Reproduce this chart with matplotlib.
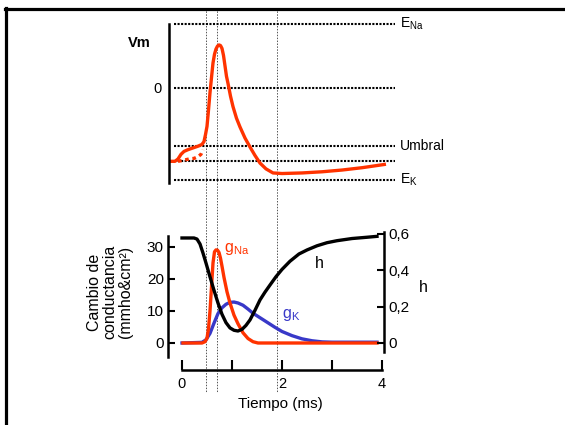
import matplotlib
matplotlib.use('Agg')
import matplotlib.pyplot as plt
from matplotlib.lines import Line2D
from matplotlib import transforms

plt.rcParams['font.family'] = ['Liberation Sans', 'DejaVu Sans']
plt.rcParams['mathtext.fontset'] = 'custom'
plt.rcParams['mathtext.rm'] = 'Liberation Sans'
plt.rcParams['mathtext.it'] = 'Liberation Sans:italic'
plt.rcParams['mathtext.bf'] = 'Liberation Sans:bold'

W, H = 565, 425
RED = '#FF3300'
BLUE = '#3838C8'

# ---------------- data ----------------
# membrane potential (mV) vs time (ms)
vm_t = [-0.26, -0.14, -0.08, -0.02, 0.04, 0.12, 0.22, 0.32, 0.40, 0.44, 0.47,
        0.50, 0.53, 0.56, 0.59, 0.62, 0.65, 0.68, 0.71, 0.74, 0.77, 0.80,
        0.83, 0.86, 0.89, 0.92, 0.97, 1.02, 1.09, 1.16, 1.26, 1.36, 1.46,
        1.56, 1.68, 1.82, 2.00, 2.40, 2.80, 3.20, 3.60, 4.08]
vm_mv = [-63, -63, -61, -57, -54.5, -53, -51.5, -50, -48.5, -46, -40,
         -33, -19, -4, 9, 21.5, 29, 33.5, 36, 37, 36.5, 34,
         28, 19, 10, 4, -7, -16, -26, -33.5, -43, -50.7, -58,
         -64.5, -69.5, -73, -73.5, -73, -72, -70.5, -68.5, -65.5]
# sub-threshold response (dotted)
sub_t = [-0.08, 0.04, 0.14, 0.24, 0.32, 0.38, 0.42]
sub_mv = [-63, -62, -61, -60.5, -59, -57, -53]
# reference levels
level_values = [55, 0, -50, -63, -79]
level_labels = [r'$\mathregular{E_{Na}}$', '', 'Umbral', '', r'$\mathregular{E_K}$']

# conductances (mmho/cm2) vs time (ms)
gna_t = [0.02, 0.40, 0.46, 0.50, 0.53, 0.56, 0.59, 0.62, 0.65, 0.68, 0.71,
         0.74, 0.77, 0.80, 0.84, 0.90, 0.96, 1.04, 1.12, 1.22, 1.32, 1.42,
         1.52, 3.90]
gna = [0, 0, 0.4, 1.5, 4.5, 10, 17.5, 25, 28.5, 29.1, 29,
       28.3, 26.5, 24, 20.5, 16, 12.5, 8.7, 6, 3.2, 1.4, 0.4,
       0, 0]
gk_t = [0.0, 0.40, 0.48, 0.56, 0.64, 0.72, 0.80, 0.88, 0.96, 1.04, 1.12,
        1.22, 1.32, 1.42, 1.50, 1.62, 1.74, 1.86, 2.00, 2.20, 2.40, 2.60,
        2.80, 3.00, 3.90]
gk = [0, 0.2, 1, 3, 6.2, 9.2, 11, 12.1, 12.7, 12.8, 12.5,
      11.8, 10.6, 9.3, 8.5, 7.3, 6.1, 4.9, 3.6, 2.3, 1.3, 0.7,
      0.35, 0.25, 0.25]
# inactivation variable h
h_t = [0.0, 0.24, 0.30, 0.36, 0.42, 0.48, 0.56, 0.64, 0.72, 0.80, 0.88,
       0.96, 1.04, 1.12, 1.20, 1.28, 1.36, 1.46, 1.56, 1.66, 1.76, 1.88,
       2.00, 2.16, 2.34, 2.50, 2.70, 2.90, 3.10, 3.40, 3.70, 3.90]
h = [0.578, 0.578, 0.572, 0.545, 0.495, 0.44, 0.364, 0.29, 0.22, 0.158, 0.112,
     0.083, 0.07, 0.066, 0.075, 0.097, 0.127, 0.18, 0.237, 0.28, 0.319, 0.365,
     0.405, 0.45, 0.49, 0.512, 0.535, 0.552, 0.563, 0.575, 0.582, 0.587]

x_ticks = [0, 1, 2, 3, 4]
x_ticklabels = ['0', '', '2', '', '4']
g_ticks = [0, 10, 20, 30]
h_ticks = [0, 0.2, 0.4, 0.6]
h_ticklabels = ['0', '0,2', '0,4', '0,6']
event_t = [0.48, 0.70, 1.90]

# ---------------- layout helpers ----------------
def rect(x0, y0, x1, y1):
    return [x0 / W, 1 - y1 / H, (x1 - x0) / W, (y1 - y0) / H]

T0_PX, PX_PER_MS = 182, 50.0
def t_of(px):
    return (px - T0_PX) / PX_PER_MS

fig = plt.figure(figsize=(W / 100, H / 100), dpi=100)

def ftext(xpx, ypx, s, **kw):
    return fig.text(xpx / W, 1 - ypx / H, s, **kw)

# ---------------- top panel ----------------
ax1 = fig.add_axes(rect(169, 24, 400, 183))
ax1.patch.set_visible(False)
mv_per_px = 55 / 64.0
ax1.set_xlim(t_of(169), t_of(400))
ax1.set_ylim(-(183 - 88) * mv_per_px, 55)
for s in ['top', 'right', 'bottom']:
    ax1.spines[s].set_visible(False)
ax1.spines['left'].set_linewidth(1.8)
ax1.set_xticks([])
ax1.set_yticks([])

for v, lab in zip(level_values, level_labels):
    ax1.plot([t_of(174), t_of(395)], [v, v], color='k', lw=1.5,
             ls=(0, (1, 0.7)), clip_on=False, solid_capstyle='butt')
    if lab:
        ax1.text(t_of(400), v, lab, ha='left', va='center', fontsize=10)

ax1.plot(sub_t, sub_mv, color=RED, lw=2.4, ls=(0, (1.1, 1.1)), clip_on=False)
ax1.plot(vm_t, vm_mv, color=RED, lw=2.4, clip_on=False,
         solid_joinstyle='round', solid_capstyle='butt')

ftext(139, 43, 'Vm', ha='center', va='center', fontsize=10.5, fontweight='bold')
ftext(162, 89, '0', ha='right', va='center', fontsize=10.5)

# ---------------- bottom panel ----------------
ax2 = fig.add_axes(rect(168, 231, 384, 357))
ax2.patch.set_visible(False)
ax2.set_xlim(t_of(168), t_of(384))
ax2.set_ylim(-(357 - 343) / 3.2, (343 - 231) / 3.2)
ax3 = ax2.twinx()
ax3.patch.set_visible(False)
ax3.set_ylim(-(357 - 343) / 181.7, (343 - 231) / 181.7)

for s in ['top', 'right']:
    ax2.spines[s].set_visible(False)
for s in ['top', 'left', 'bottom']:
    ax3.spines[s].set_visible(False)
ax2.spines['left'].set_linewidth(1.8)
ax2.spines['left'].set_bounds(-(357 - 343) / 3.2, (343 - 236) / 3.2)
ax2.spines['bottom'].set_linewidth(1.8)
ax2.spines['bottom'].set_position(('outward', 13 * 0.72))
ax2.spines['bottom'].set_bounds(0, 4)
ax3.spines['right'].set_linewidth(1.8)
ax3.spines['right'].set_bounds(-(352 - 343) / 181.7, (343 - 232) / 181.7)

ax2.set_xticks(x_ticks)
ax2.set_xticklabels(x_ticklabels)
ax2.set_yticks(g_ticks)
ax3.set_yticks(h_ticks)
ax3.set_yticklabels(h_ticklabels)
ax2.tick_params(axis='x', direction='in', length=7, width=1.5, pad=5, labelsize=10.5)
ax2.tick_params(axis='y', direction='in', length=5, width=1.5, pad=3, labelsize=11)
ax3.tick_params(axis='y', direction='in', length=5, width=1.5, pad=3, labelsize=11)

ax2.plot(gk_t, gk, color=BLUE, lw=2.4, clip_on=False, solid_joinstyle='round')
ax2.plot(gna_t, gna, color=RED, lw=2.4, clip_on=False, solid_joinstyle='round')
ax3.plot(h_t, h, color='k', lw=2.4, clip_on=False, solid_joinstyle='round')

ax2.text(0.84, 29.5, r'$\mathregular{g_{Na}}$', color=RED, fontsize=11.5,
         ha='left', va='center')
ax2.text(2.0, 8.6, r'$\mathregular{g_K}$', color=BLUE, fontsize=11.5,
         ha='left', va='center')
ax3.text(2.66, 0.44, 'h', color='k', fontsize=11.5, ha='left', va='center')

ftext(110, 292, 'Cambio de\nconductancia\n(mmho&cm\u00b2)', rotation=90,
      ha='center', va='center', multialignment='center', fontsize=11.5,
      linespacing=1.05)
ftext(423, 288, 'h', ha='center', va='center', fontsize=11.5)
ftext(280, 404, 'Tiempo (ms)', ha='center', va='center', fontsize=11)

# ---------------- event lines and frame ----------------
trans = transforms.blended_transform_factory(ax2.transData, fig.transFigure)
for t in event_t:
    fig.add_artist(Line2D([t, t], [1 - 8 / H, 1 - 392 / H], transform=trans,
                          color='#555555', lw=0.7, ls=(0, (1.5, 1.5)), zorder=-1))

fig.add_artist(Line2D([5 / W, 1], [1 - 8.5 / H, 1 - 8.5 / H], transform=fig.transFigure,
                      color='k', lw=2.3))
fig.add_artist(Line2D([6 / W, 6 / W], [1 - 7.5 / H, 0], transform=fig.transFigure,
                      color='k', lw=2.3))

fig.savefig('out.png', dpi=100)
